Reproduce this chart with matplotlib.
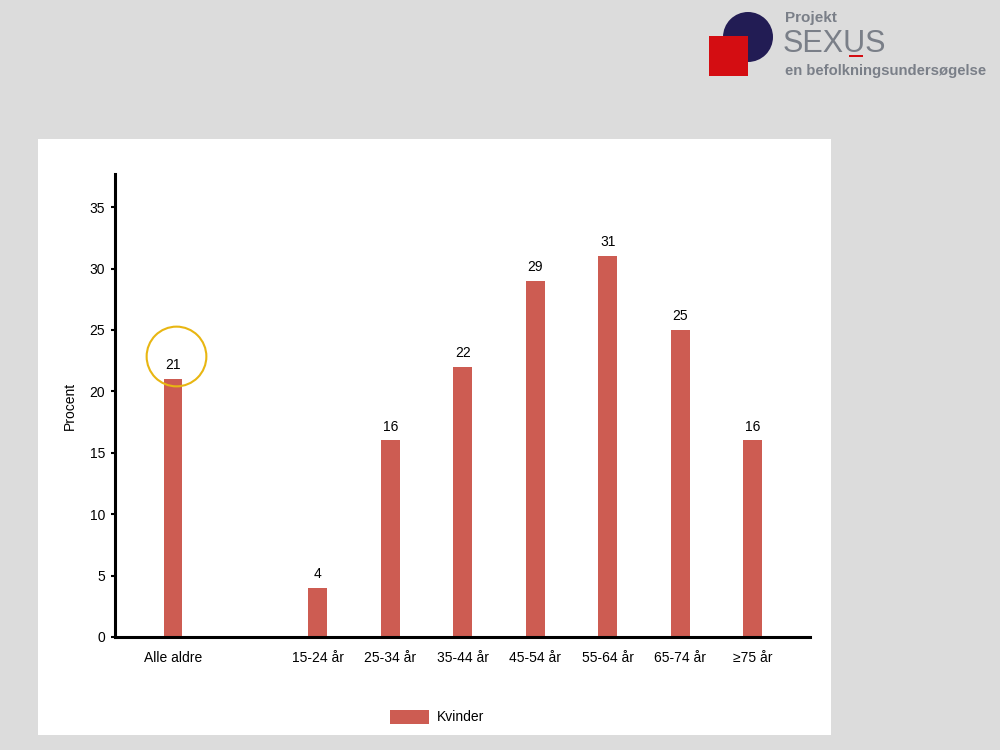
#!/usr/bin/env python3
"""
Projekt SEXUS - søjlediagram for kvinder
"""

import matplotlib
matplotlib.use('Agg')
import matplotlib.pyplot as plt
from matplotlib.patches import Rectangle, Circle

plt.rcParams['font.family'] = ['Liberation Sans', 'DejaVu Sans']

# data
positions = [0, 2, 3, 4, 5, 6, 7, 8]
labels = ['Alle aldre', '15-24 år', '25-34 år', '35-44 år', '45-54 år',
          '55-64 år', '65-74 år', '≥75 år']
kvinder = [21, 4, 16, 22, 29, 31, 25, 16]
yticks = [0, 5, 10, 15, 20, 25, 30, 35]

bar_color = '#cd5c52'
logo_grey = '#7a7f88'

fig = plt.figure(figsize=(10, 7.5), dpi=100)
fig.patch.set_facecolor('#dcdcdc')

# hvidt panel (bag diagrammet)
fig.patches.append(Rectangle((0.038, 0.02), 0.793, 0.7947, transform=fig.transFigure,
                             facecolor='white', edgecolor='none', zorder=-5))

# logo
fig.patches.append(Circle((748, 750 - 37), 25, transform=None,
                          facecolor='#221c54', edgecolor='none', zorder=1))
fig.patches.append(Rectangle((709 / 1000, (750 - 76) / 750), 39 / 1000, 40 / 750,
                             transform=fig.transFigure, facecolor='#d40d12',
                             edgecolor='none', zorder=2))
fig.text(0.785, 1 - 18 / 750, 'Projekt', fontsize=11, fontweight='bold',
         color=logo_grey, va='center', ha='left')
fig.text(0.783, 1 - 44 / 750, 'SEXUS', fontsize=22, color=logo_grey,
         va='center', ha='left')
fig.patches.append(Rectangle((0.849, 1 - 57 / 750), 0.014, 2 / 750,
                             transform=fig.transFigure, facecolor='#d40d12',
                             edgecolor='none', zorder=3))
fig.text(0.785, 1 - 71 / 750, 'en befolkningsundersøgelse', fontsize=10.7,
         fontweight='bold', color=logo_grey, va='center', ha='left')

# diagram
ax = fig.add_axes([0.115, 0.1507, 0.695, 0.6173])
ax.set_zorder(1)
ax.set_facecolor('none')
bars = ax.bar(positions, kvinder, width=0.26, color=bar_color, label='Kvinder', zorder=2)
for x, y in zip(positions, kvinder):
    ax.annotate(f'{y}', (x, y), textcoords='offset points', xytext=(0, 5),
                ha='center', va='bottom', fontsize=10)

ax.set_xlim(-0.8, 8.79)
ax.set_ylim(0, 37.7)
ax.set_xticks(positions)
ax.set_xticklabels(labels, fontsize=10)
ax.set_yticks(yticks)
ax.tick_params(axis='y', labelsize=10, length=3, width=1.5, pad=4)
ax.tick_params(axis='x', length=0, pad=10)
ax.set_ylabel('Procent', fontsize=10, labelpad=9)

for side in ['top', 'right']:
    ax.spines[side].set_visible(False)
for side in ['left', 'bottom']:
    ax.spines[side].set_linewidth(2.2)

# markering af "Alle aldre"
ax.plot([0.04], [22.87], 'o', markersize=43, markerfacecolor='none',
        markeredgecolor='#e8b612', markeredgewidth=1.5, zorder=3, clip_on=False)

leg = fig.legend(handles=[bars], loc='center', bbox_to_anchor=(0.437, 1 - 717 / 750),
                 frameon=False, fontsize=10, handlelength=2.8, handleheight=1.2,
                 handletextpad=0.6)

plt.savefig('out.png', dpi=100, facecolor=fig.get_facecolor())
plt.close()
